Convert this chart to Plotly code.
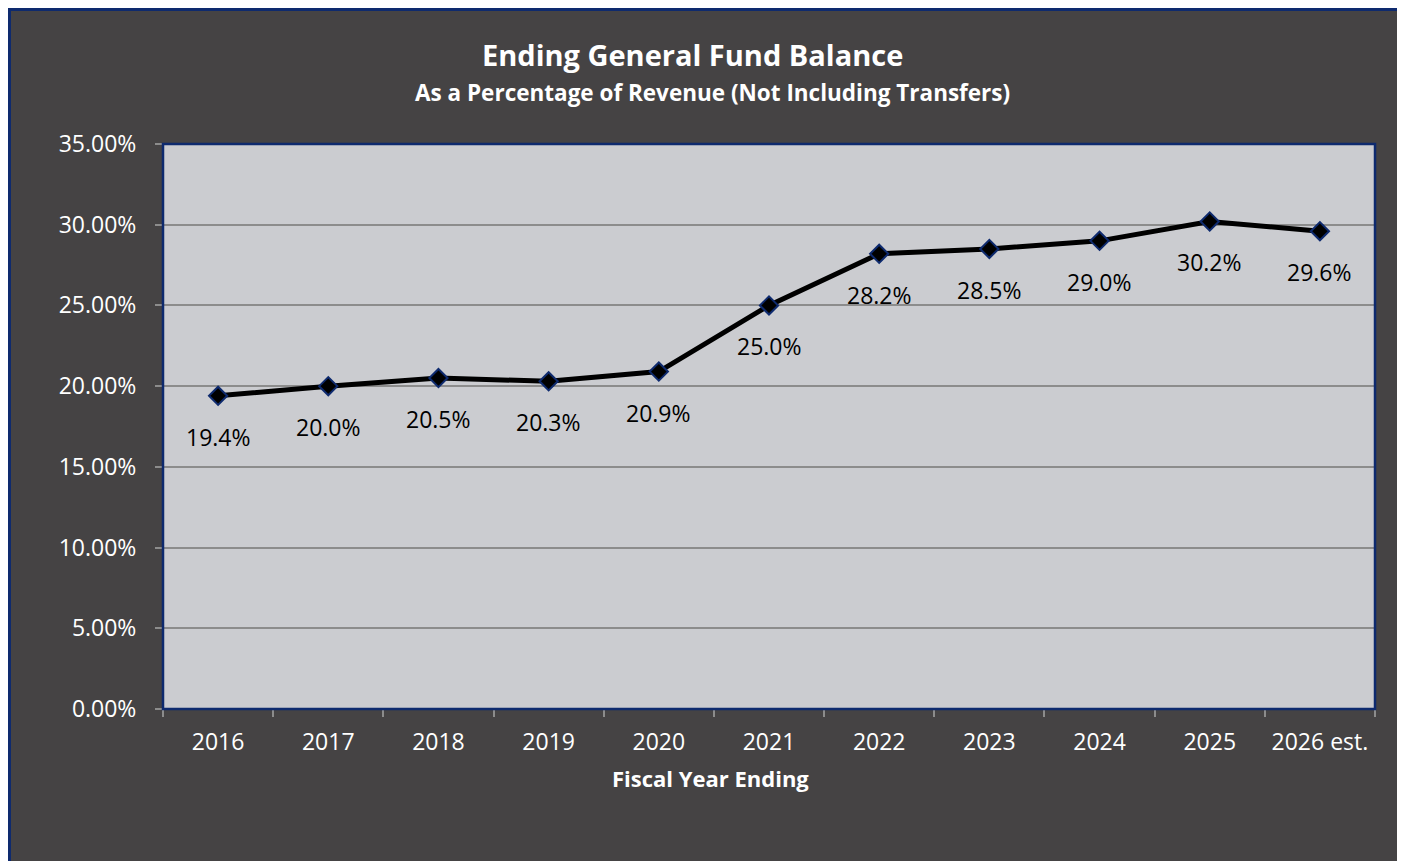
import plotly.graph_objects as go

years = ["2016", "2017", "2018", "2019", "2020", "2021", "2022", "2023", "2024", "2025", "2026 est."]
pct_values = [19.4, 20.0, 20.5, 20.3, 20.9, 25.0, 28.2, 28.5, 29.0, 30.2, 29.6]
y_ticks = [0, 5, 10, 15, 20, 25, 30, 35]
y_tick_labels = ["0.00%", "5.00%", "10.00%", "15.00%", "20.00%", "25.00%", "30.00%", "35.00%"]
title_text = "Ending General Fund Balance"
subtitle_text = "As a Percentage of Revenue (Not Including Transfers)"
x_title = "Fiscal Year Ending"

BG = "#454344"
PLOT_BG = "#CBCCD0"
NAVY = "#0E2A6E"
GRID = "#8C8C8C"
FONT = "Open Sans"

# page has an 8px body margin; figure occupies the rest
OFF = 8
W, H = 1397, 853
L, R, T, B = 163 - OFF, 1405 - 1375, 144 - OFF, 861 - 709
pw, ph = W - L - R, H - T - B

def px_x(p):
    return (p - OFF - L) / pw

def px_y(p):
    return (H - B + OFF - p) / ph

xpos = list(range(len(years)))

fig = go.Figure()
fig.add_trace(go.Scatter(
    x=xpos, y=pct_values, mode="lines+markers",
    line=dict(color="black", width=5),
    marker=dict(symbol="diamond", size=14, color="black",
                line=dict(color=NAVY, width=2)),
    hoverinfo="skip", showlegend=False,
))

annotations = []
for i, v in zip(xpos, pct_values):
    annotations.append(dict(
        x=i, y=v, xref="x", yref="y", text=f"{v:.1f}%",
        showarrow=False, yshift=-41, yanchor="middle",
        font=dict(family=FONT, size=23, color="black"),
    ))

annotations.append(dict(
    x=px_x(692), y=px_y(55), xref="paper", yref="paper", text=f"<b>{title_text}</b>",
    showarrow=False, xanchor="center", yanchor="middle",
    font=dict(family=FONT, size=29, color="white"),
))
annotations.append(dict(
    x=px_x(712), y=px_y(93), xref="paper", yref="paper", text=f"<b>{subtitle_text}</b>",
    showarrow=False, xanchor="center", yanchor="middle",
    font=dict(family=FONT, size=22.5, color="white"),
))
annotations.append(dict(
    x=px_x(710), y=px_y(778), xref="paper", yref="paper", text=f"<b>{x_title}</b>",
    showarrow=False, xanchor="center", yanchor="middle",
    font=dict(family=FONT, size=22, color="white"),
))

shapes = [
    dict(type="rect", xref="paper", yref="paper", layer="above",
         x0=px_x(OFF + 1.5), x1=px_x(OFF + W - 1.5), y0=px_y(900), y1=px_y(OFF + 1.5),
         fillcolor="rgba(0,0,0,0)", line=dict(color=NAVY, width=3)),
    dict(type="rect", xref="paper", yref="paper", layer="above",
         x0=0, x1=1, y0=0, y1=1,
         fillcolor="rgba(0,0,0,0)", line=dict(color=NAVY, width=2.5)),
]

fig.update_layout(
    width=W, height=H,
    margin=dict(l=L, r=R, t=T, b=B, pad=0),
    paper_bgcolor=BG,
    plot_bgcolor=PLOT_BG,
    font=dict(family=FONT, color="white"),
    annotations=annotations,
    shapes=shapes,
    showlegend=False,
)
fig.update_xaxes(
    range=[-0.5, len(years) - 0.5],
    tickmode="array", tickvals=xpos, ticktext=years,
    ticks="", showgrid=False, showline=False, zeroline=False,
    tickfont=dict(family=FONT, size=23, color="white"),
    tickangle=0, ticklabelstandoff=17,
    minor=dict(ticks="outside", tick0=-0.5, dtick=1, ticklen=7,
               tickcolor=GRID, tickwidth=2, showgrid=False),
)
fig.update_yaxes(
    range=[0, 35], tickmode="array", tickvals=y_ticks, ticktext=y_tick_labels,
    ticks="outside", ticklen=7, tickcolor=GRID, tickwidth=2,
    showgrid=True, gridcolor=GRID, gridwidth=1.5,
    showline=False, zeroline=False,
    tickfont=dict(family=FONT, size=23, color="white"),
    ticklabelstandoff=14,
)

fig.write_html("out.html")
